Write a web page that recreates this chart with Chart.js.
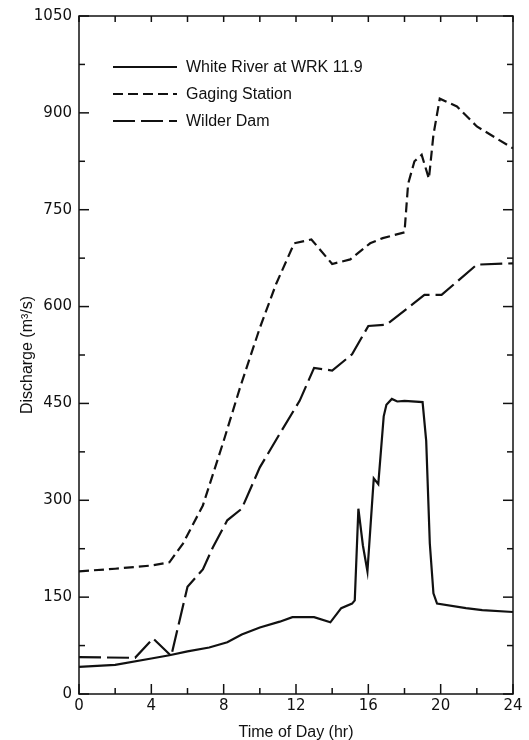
<!DOCTYPE html>
<html>
<head>
<meta charset="utf-8">
<script src="https://cdn.jsdelivr.net/npm/chart.js@4.4.0/dist/chart.umd.min.js"></script>
<style>
  html, body { margin: 0; padding: 0; background: #fff; }
</style>
</head>
<body>
<canvas id="chart" width="529" height="740"></canvas>
<script>
// Discharge readings (m3/s) against time of day (hr)
const whiteHours = [0, 2, 4, 5, 6, 7.2, 8.2, 9, 10, 11.1, 11.8, 13.0, 13.9, 14.5, 15.1, 15.25, 15.45, 15.7, 15.95, 16.3, 16.55, 16.85, 17.0, 17.3, 17.6, 18.0, 19.0, 19.2, 19.4, 19.6, 19.8, 21.4, 22.3, 24];
const whiteQ     = [42, 45, 55, 60, 66, 72, 80, 92, 103, 112, 119, 119, 111, 133, 140, 145, 287, 230, 190, 334, 325, 430, 448, 457, 453, 454, 452, 392, 233, 156, 140, 133, 130, 127];

const gagingHours = [0, 2, 4, 5, 5.75, 6.85, 8.0, 8.9, 10, 10.9, 11.9, 12.85, 14.0, 15.0, 16.1, 16.8, 18.0, 18.2, 18.55, 18.95, 19.35, 19.6, 19.95, 20.9, 22.0, 24];
const gagingQ     = [190, 194, 199, 204, 233, 292, 392, 474, 567, 635, 698, 704, 666, 673, 698, 706, 715, 790, 825, 835, 798, 866, 922, 910, 879, 845];

const wilderHours = [0, 3.1, 4.1, 5.1, 6.0, 6.85, 7.4, 8.2, 9.0, 10, 11.1, 12.2, 13.0, 14.0, 15.1, 16.0, 17.0, 19.1, 20.05, 22.0, 24];
const wilderQ     = [57, 56, 86, 59, 166, 193, 227, 269, 287, 351, 403, 454, 505, 501, 526, 570, 572, 618, 618, 665, 667];

const seriesNames = ['White River at WRK 11.9', 'Gaging Station', 'Wilder Dam'];
const xTitle = 'Time of Day (hr)';
const yTitle = 'Discharge (m\u00B3/s)';

const toPoints = (hours, q) => hours.map((h, i) => ({ x: h, y: q[i] }));

const ink = '#111';

// Frame with inward tick marks on all four sides
const frameTicks = {
  id: 'frameTicks',
  afterDatasetsDraw(chart) {
    const { ctx, chartArea: a, scales: { x, y } } = chart;
    const seg = (x1, y1, x2, y2) => { ctx.beginPath(); ctx.moveTo(x1, y1); ctx.lineTo(x2, y2); ctx.stroke(); };
    ctx.save();
    ctx.strokeStyle = ink;
    ctx.lineWidth = 1.5;
    ctx.strokeRect(a.left, a.top, a.right - a.left, a.bottom - a.top);
    for (let h = 0; h <= 24; h += 2) {
      const px = x.getPixelForValue(h);
      const len = h % 4 === 0 ? 10 : 6;
      seg(px, a.bottom, px, a.bottom - len);
      seg(px, a.top, px, a.top + 6);
    }
    for (let q = 0; q <= 1050; q += 75) {
      const py = y.getPixelForValue(q);
      const len = q % 150 === 0 ? 10 : 6;
      seg(a.left, py, a.left + len, py);
      seg(a.right, py, a.right - len, py);
    }
    ctx.restore();
  }
};

// Legend drawn inside the plot, upper left
const innerLegend = {
  id: 'innerLegend',
  afterDraw(chart) {
    const { ctx } = chart;
    const rows = [67, 94, 121];
    ctx.save();
    chart.data.datasets.forEach((ds, i) => {
      ctx.strokeStyle = ds.borderColor;
      ctx.lineWidth = ds.borderWidth;
      ctx.setLineDash(ds.borderDash || []);
      ctx.beginPath();
      ctx.moveTo(113, rows[i]);
      ctx.lineTo(177, rows[i]);
      ctx.stroke();
      ctx.setLineDash([]);
      ctx.fillStyle = ink;
      ctx.font = '16px "Liberation Sans", Arial, sans-serif';
      ctx.textBaseline = 'middle';
      ctx.fillText(ds.label, 186, rows[i] + 1);
    });
    ctx.restore();
  }
};

new Chart(document.getElementById('chart'), {
  type: 'line',
  data: {
    datasets: [
      { label: seriesNames[0], data: toPoints(whiteHours, whiteQ), borderDash: [] },
      { label: seriesNames[1], data: toPoints(gagingHours, gagingQ), borderDash: [10, 5] },
      { label: seriesNames[2], data: toPoints(wilderHours, wilderQ), borderDash: [22, 6] },
    ].map((d) => Object.assign(d, {
      borderColor: ink,
      borderWidth: 2.2,
      pointRadius: 0,
      tension: 0,
      fill: false,
    })),
  },
  options: {
    responsive: false,
    animation: false,
    layout: { padding: { top: 14, right: 16, left: 0, bottom: 0 } },
    plugins: { legend: { display: false }, tooltip: { enabled: false } },
    scales: {
      x: {
        type: 'linear',
        min: 0,
        max: 24,
        afterFit: (s) => { s.height = 46; },
        grid: { display: false, drawTicks: false },
        border: { display: false },
        ticks: {
          stepSize: 4,
          padding: 3,
          color: ink,
          font: { family: '"DejaVu Sans", sans-serif', size: 15 },
          callback: (v) => String(v),
        },
        title: {
          display: true,
          text: xTitle,
          color: ink,
          font: { family: '"Liberation Sans", Arial, sans-serif', size: 16 },
          padding: { top: 0, bottom: -2 },
        },
      },
      y: {
        type: 'linear',
        min: 0,
        max: 1050,
        afterFit: (s) => { s.width = 79; },
        grid: { display: false, drawTicks: false },
        border: { display: false },
        ticks: {
          stepSize: 150,
          padding: 7,
          color: ink,
          font: { family: '"DejaVu Sans", sans-serif', size: 15 },
          callback: (v) => String(v),
        },
        title: {
          display: true,
          text: yTitle,
          color: ink,
          font: { family: '"Liberation Sans", Arial, sans-serif', size: 16 },
          padding: { top: 18, bottom: 0 },
        },
      },
    },
  },
  plugins: [frameTicks, innerLegend],
});
</script>
</body>
</html>
